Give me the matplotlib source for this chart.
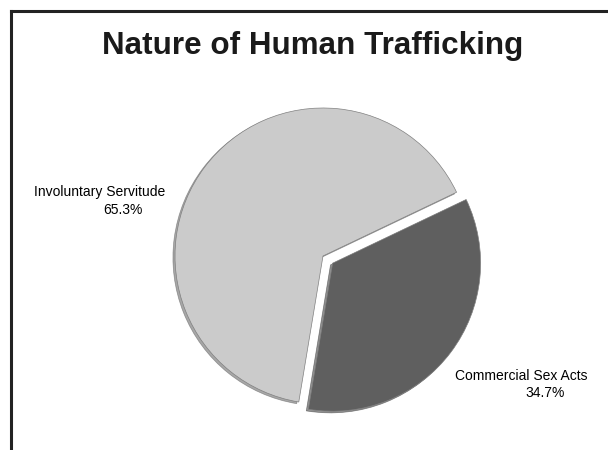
# pie chart: nature of human trafficking

import matplotlib.pyplot as plt
from matplotlib.lines import Line2D

# data
labels = ['Involuntary Servitude', 'Commercial Sex Acts']
shares = [65.3, 34.7]
colors = ['#cbcbcb', '#5f5f5f']

W, H = 608, 450
fig = plt.figure(figsize=(W / 100, H / 100), dpi=100)
ax = fig.add_axes([0, 0, 1, 1])

# the pie is drawn in pixel units so its place is easy to match
# (explode is in data units here, i.e. pixels)
wedges, _ = ax.pie(shares, colors=colors, startangle=25.5, counterclock=True,
                   center=(323, H - 256), radius=148, explode=[0, 12],
                   shadow={'ox': -1.5, 'oy': -1.2, 'shade': 0.6},
                   wedgeprops=dict(edgecolor='#808080', linewidth=0.5),
                   frame=True)
ax.set_xlim(0, W)
ax.set_ylim(0, H)
ax.set_aspect('auto')
ax.axis('off')

font = ['Liberation Sans', 'DejaVu Sans']
ax.text(313, H - 46, 'Nature of Human Trafficking', ha='center', va='center',
        fontsize=22.6, fontweight='bold', family=font, color='#1a1a1a')

# slice labels with percentages
ax.text(100, H - 192, labels[0], ha='center', va='center', fontsize=10, family=font)
ax.text(123, H - 210, f'{shares[0]}%', ha='center', va='center', fontsize=10, family=font)
ax.text(521, H - 376, labels[1], ha='center', va='center', fontsize=10, family=font)
ax.text(545, H - 393, f'{shares[1]}%', ha='center', va='center', fontsize=10, family=font)

# frame lines at top and left (the picture is cropped on the other sides)
fig.add_artist(Line2D([10.5 / W, 1], [1 - 10.5 / H, 1 - 10.5 / H], color='#222222', lw=2.2))
fig.add_artist(Line2D([10.5 / W, 10.5 / W], [0, 1 - 10.5 / H], color='#222222', lw=2.2))

plt.savefig('out.png', dpi=100)
